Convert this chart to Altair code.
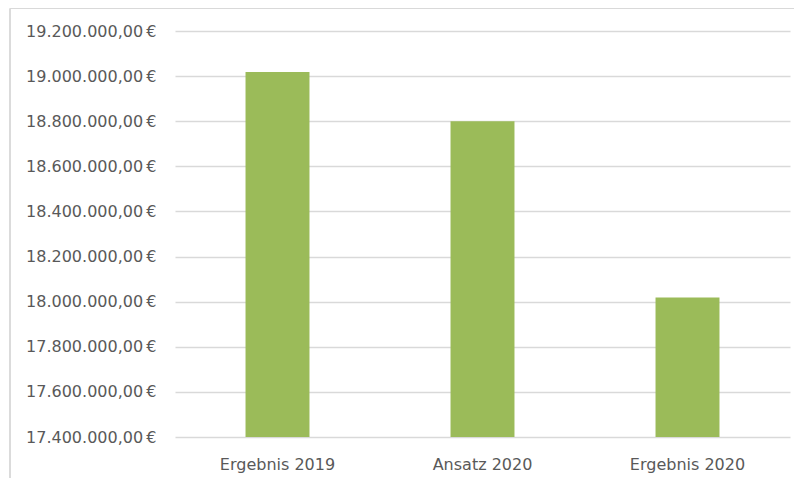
import altair as alt
import pandas as pd

categories = ["Ergebnis 2019", "Ansatz 2020", "Ergebnis 2020"]
values = [19018000, 18800000, 18018000]
tick_values = [17400000, 17600000, 17800000, 18000000, 18200000,
               18400000, 18600000, 18800000, 19000000, 19200000]
axis_min = 17400000
axis_max = 19200000

df = pd.DataFrame({"Kategorie": categories, "Wert": values})

FONT = "DejaVu Sans"
TXT = "#595959"
GRID = "#d9d9d9"

W, H = 615, 406

bars = alt.Chart(df).mark_bar(color="#9bbb59").encode(
    x=alt.X("Kategorie:N", sort=categories, title=None,
            scale=alt.Scale(paddingInner=0.688, paddingOuter=0.344),
            axis=alt.Axis(labelAngle=0, domain=False, ticks=False,
                          labelPadding=19, labelFont=FONT, labelFontSize=16,
                          labelColor=TXT)),
    y=alt.Y("Wert:Q", title=None,
            scale=alt.Scale(domain=[axis_min, axis_max], zero=False, nice=False),
            axis=alt.Axis(values=tick_values, format=",.2f",
                          labelExpr="datum.label + '\u2009€'",
                          domain=False, ticks=False, labelPadding=19,
                          labelFont=FONT, labelFontSize=16, labelColor=TXT,
                          grid=True, gridColor=GRID, gridWidth=1.4)),
    y2=alt.datum(axis_min),
)

frame_v = alt.Chart(df).mark_rule(color=GRID, strokeWidth=1.2).encode(
    x=alt.value(-165), y=alt.value(-22.5), y2=alt.value(H + 60)
)
frame_h = alt.Chart(df).mark_rule(color=GRID, strokeWidth=1.2).encode(
    x=alt.value(-165), x2=alt.value(W + 20), y=alt.value(-22.5)
)

chart = alt.layer(frame_v, frame_h, bars).properties(
    width=W, height=H,
    autosize=alt.AutoSizeParams(type="none"),
    padding={"left": 167, "top": 23, "right": 4, "bottom": 41},
).configure(
    locale={"number": {"decimal": ",", "thousands": ".", "grouping": [3],
                       "currency": ["", "€"]}}
).configure_view(stroke=None)

chart.save("out.html", embed_options={"renderer": "svg", "actions": False})
